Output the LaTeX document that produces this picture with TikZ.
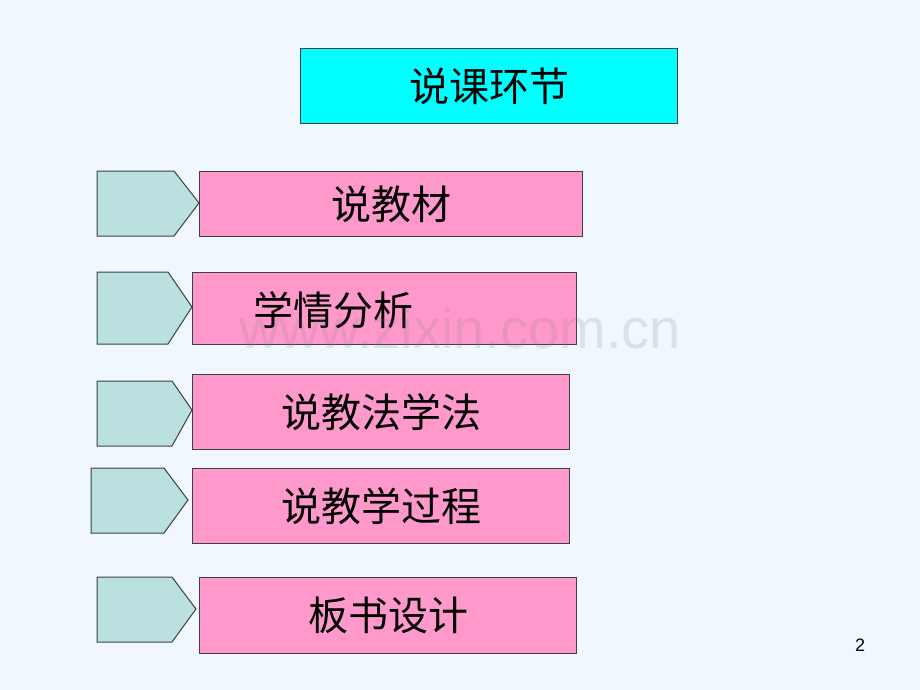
\documentclass[tikz,border=0pt]{standalone}
\usepackage{fontspec}
\setmainfont{Liberation Sans}
\newfontfamily\cjk{Noto Sans CJK SC}
\definecolor{bgc}{HTML}{F0F7FF}
\definecolor{pinkc}{HTML}{FF99CC}
\definecolor{tealc}{HTML}{BAE0E0}
\definecolor{edgec}{HTML}{404040}
\definecolor{titlec}{HTML}{00FFFF}
\tikzset{
  pinkbox/.style={draw=edgec, line width=1pt, fill=pinkc, inner sep=0pt, anchor=north west},
  titlebox/.style={draw=edgec, line width=1pt, fill=titlec, inner sep=0pt, anchor=north west},
  arrowshape/.style={draw=edgec, line width=1pt, fill=tealc, line join=miter},
  cjktext/.style={font=\cjk\fontsize{40}{42}\selectfont, text=black},
}
\begin{document}
\begin{tikzpicture}[x=1pt,y=-1pt]
\fill[bgc] (0,0) rectangle (920,690);
\useasboundingbox (0,0) rectangle (920,690);
% title
\node[titlebox, minimum width=377pt, minimum height=75pt, cjktext] (title) at (300,48) {说课环节};
% pentagons
\draw[arrowshape] (97,171) -- (174,171) -- (199,203) -- (174,236) -- (97,236) -- cycle;
\draw[arrowshape] (97,272) -- (168,272) -- (192,307) -- (168,344) -- (97,344) -- cycle;
\draw[arrowshape] (97,381) -- (172,381) -- (192,410) -- (172,446) -- (97,446) -- cycle;
\draw[arrowshape] (91,468) -- (164,468) -- (188,500) -- (164,533) -- (91,533) -- cycle;
\draw[arrowshape] (97,577) -- (172,577) -- (196,609) -- (172,642) -- (97,642) -- cycle;
% pink boxes
\node[pinkbox, minimum width=383pt, minimum height=65pt, cjktext] (b1) at (199,171) {说教材};
\node[pinkbox, minimum width=384pt, minimum height=72pt] (b2) at (192,272) {};
\node[cjktext] (b2t) at (333,310) {学情分析};
\node[pinkbox, minimum width=377pt, minimum height=75pt, cjktext] (b3) at (192,374) {说教法学法};
\node[pinkbox, minimum width=377pt, minimum height=75pt, cjktext] (b4) at (192,468) {说教学过程};
\node[pinkbox, minimum width=377pt, minimum height=76pt, cjktext] (b5) at (199,577) {板书设计};
% watermark
\node[font=\fontsize{56}{60}\selectfont, text=gray, opacity=0.18] (wm) at (460,328) {www.zixin.com.cn};
% page number
\node[font=\fontsize{18}{20}\selectfont] (pg) at (860,645) {2};
\end{tikzpicture}
\end{document}
